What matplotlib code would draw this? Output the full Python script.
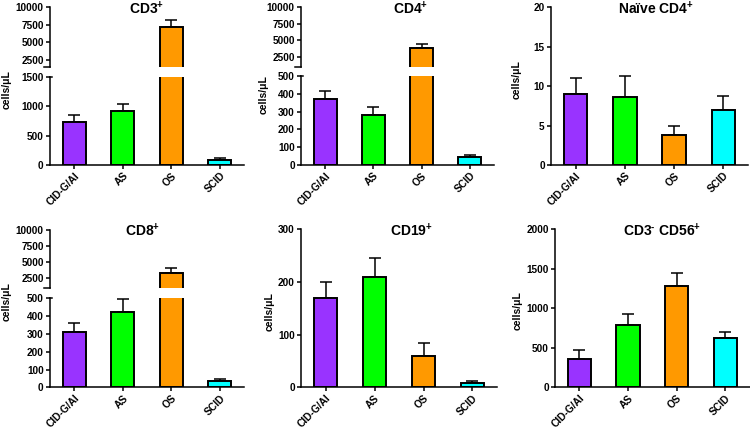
import matplotlib
matplotlib.use('Agg')
import matplotlib.pyplot as plt
import numpy as np

plt.rcParams['font.family'] = ['Liberation Sans', 'DejaVu Sans']
plt.rcParams['font.weight'] = 'bold'
plt.rcParams['mathtext.fontset'] = 'custom'
plt.rcParams['mathtext.rm'] = 'Liberation Sans:bold'
plt.rcParams['mathtext.bf'] = 'Liberation Sans:bold'
plt.rcParams['mathtext.it'] = 'Liberation Sans:bold'

groups = ['CID-G/AI', 'AS', 'OS', 'SCID']
colors = ['#9933ff', '#00ff00', '#ff9900', '#00ffff']

cd3_mean = [730, 910, 7250, 85]
cd3_err = [113, 130, 950, 35]

cd4_mean = [369, 281, 3770, 47]
cd4_err = [48, 47, 660, 9]

naive_mean = [9.0, 8.6, 3.8, 7.0]
naive_err = [2.0, 2.7, 1.1, 1.7]

cd8_mean = [309, 425, 3220, 37]
cd8_err = [54, 71, 810, 10]

cd19_mean = [170, 210, 60, 7.6]
cd19_err = [29, 35, 24, 5]

nk_mean = [358, 789, 1282, 629]
nk_err = [114, 139, 161, 75]

W, H = 750, 429
fig = plt.figure(figsize=(W / 100, H / 100), dpi=100)


def px_axes(x0, x1, y0, y1):
    return fig.add_axes([x0 / W, 1 - y1 / H, (x1 - x0) / W, (y1 - y0) / H])


def style(ax, bottom=True):
    for s in ['top', 'right']:
        ax.spines[s].set_visible(False)
    ax.spines['left'].set_linewidth(1.1)
    ax.spines['bottom'].set_linewidth(1.1)
    ax.tick_params(axis='y', length=3, width=1.1, labelsize=7.2, pad=1.5)
    ax.set_xlim(-0.5, 3.5)
    if bottom:
        ax.set_xticks(range(len(groups)))
        ax.set_xticklabels(groups, rotation=45, ha='right',
                           rotation_mode='anchor', fontsize=7.4, fontweight='bold')
        ax.tick_params(axis='x', length=3, width=1.1, pad=1)
    else:
        ax.spines['bottom'].set_visible(False)
        ax.set_xticks([])
    for lab in ax.get_yticklabels():
        lab.set_fontweight('bold')


def bars(ax, mean, err):
    x = np.arange(len(mean))
    ax.bar(x, mean, width=0.48, color=colors, edgecolor='k',
           linewidth=1.4, zorder=2)
    ax.errorbar(x, mean, yerr=[np.zeros(len(err)), err], fmt='none',
                ecolor='k', elinewidth=1.1, capsize=4.3, capthick=1.1,
                zorder=1)


def single(px, mean, err, ylim, yticks):
    ax = px_axes(*px)
    bars(ax, mean, err)
    ax.set_ylim(*ylim)
    ax.set_yticks(yticks)
    style(ax)
    return ax


def broken(px_top, px_bot, mean, err, top_lim, bot_lim, top_ticks, bot_ticks):
    ax_t = px_axes(*px_top)
    ax_b = px_axes(*px_bot)
    for ax in (ax_t, ax_b):
        bars(ax, mean, err)
    ax_t.set_ylim(*top_lim)
    ax_t.set_yticks(top_ticks)
    ax_b.set_ylim(*bot_lim)
    ax_b.set_yticks(bot_ticks)
    style(ax_t, bottom=False)
    style(ax_b)
    # break marks at the cut ends of the spine
    ax_t.plot([-0.03, 0], [0, 0], transform=ax_t.transAxes, color='k',
              lw=1.1, clip_on=False)
    ax_b.plot([0, 0.012], [1, 1], transform=ax_b.transAxes, color='k',
              lw=1.1, clip_on=False)
    return ax_t, ax_b


def ylabel(x, y):
    fig.text(x / W, 1 - y / H, 'cells/μL', rotation=90, ha='center',
             va='center', fontsize=7.5, fontweight='bold')


def title(x, y, s):
    fig.text(x / W, 1 - y / H, s, ha='center', va='center', fontsize=10,
             fontweight='bold')


# top row
broken((50, 244, 7.3, 67), (50, 244, 76.7, 165), cd3_mean, cd3_err,
       (1500, 10000), (0, 1500), [2500, 5000, 7500, 10000], [0, 500, 1000, 1500])
broken((301, 494, 7.3, 66.7), (301, 494, 76, 165), cd4_mean, cd4_err,
       (1000, 10000), (0, 500), [2500, 5000, 7500, 10000], range(0, 501, 100))
single((551, 748, 7.3, 165), naive_mean, naive_err, (0, 20), range(0, 21, 5))

# bottom row
broken((50, 244, 230, 287.7), (50, 244, 298.3, 387.3), cd8_mean, cd8_err,
       (1000, 10000), (0, 500), [2500, 5000, 7500, 10000], range(0, 501, 100))
single((301, 497, 229.3, 387.3), cd19_mean, cd19_err, (0, 300), range(0, 301, 100))
single((555, 749.5, 229.3, 387.3), nk_mean, nk_err, (0, 2000), range(0, 2001, 500))

ylabel(7, 90)
ylabel(264, 95)
ylabel(517, 80)
ylabel(7, 302)
ylabel(270, 312)
ylabel(518, 311)

title(147, 9, r'CD3$^{+}$')
title(411, 9, r'CD4$^{+}$')
title(656, 9, r'Naïve CD4$^{+}$')
title(143, 231, r'CD8$^{+}$')
title(411, 231, r'CD19$^{+}$')
title(662, 231, r'CD3$^{\text{-}}$ CD56$^{+}$')

fig.savefig('out.png', dpi=100)
